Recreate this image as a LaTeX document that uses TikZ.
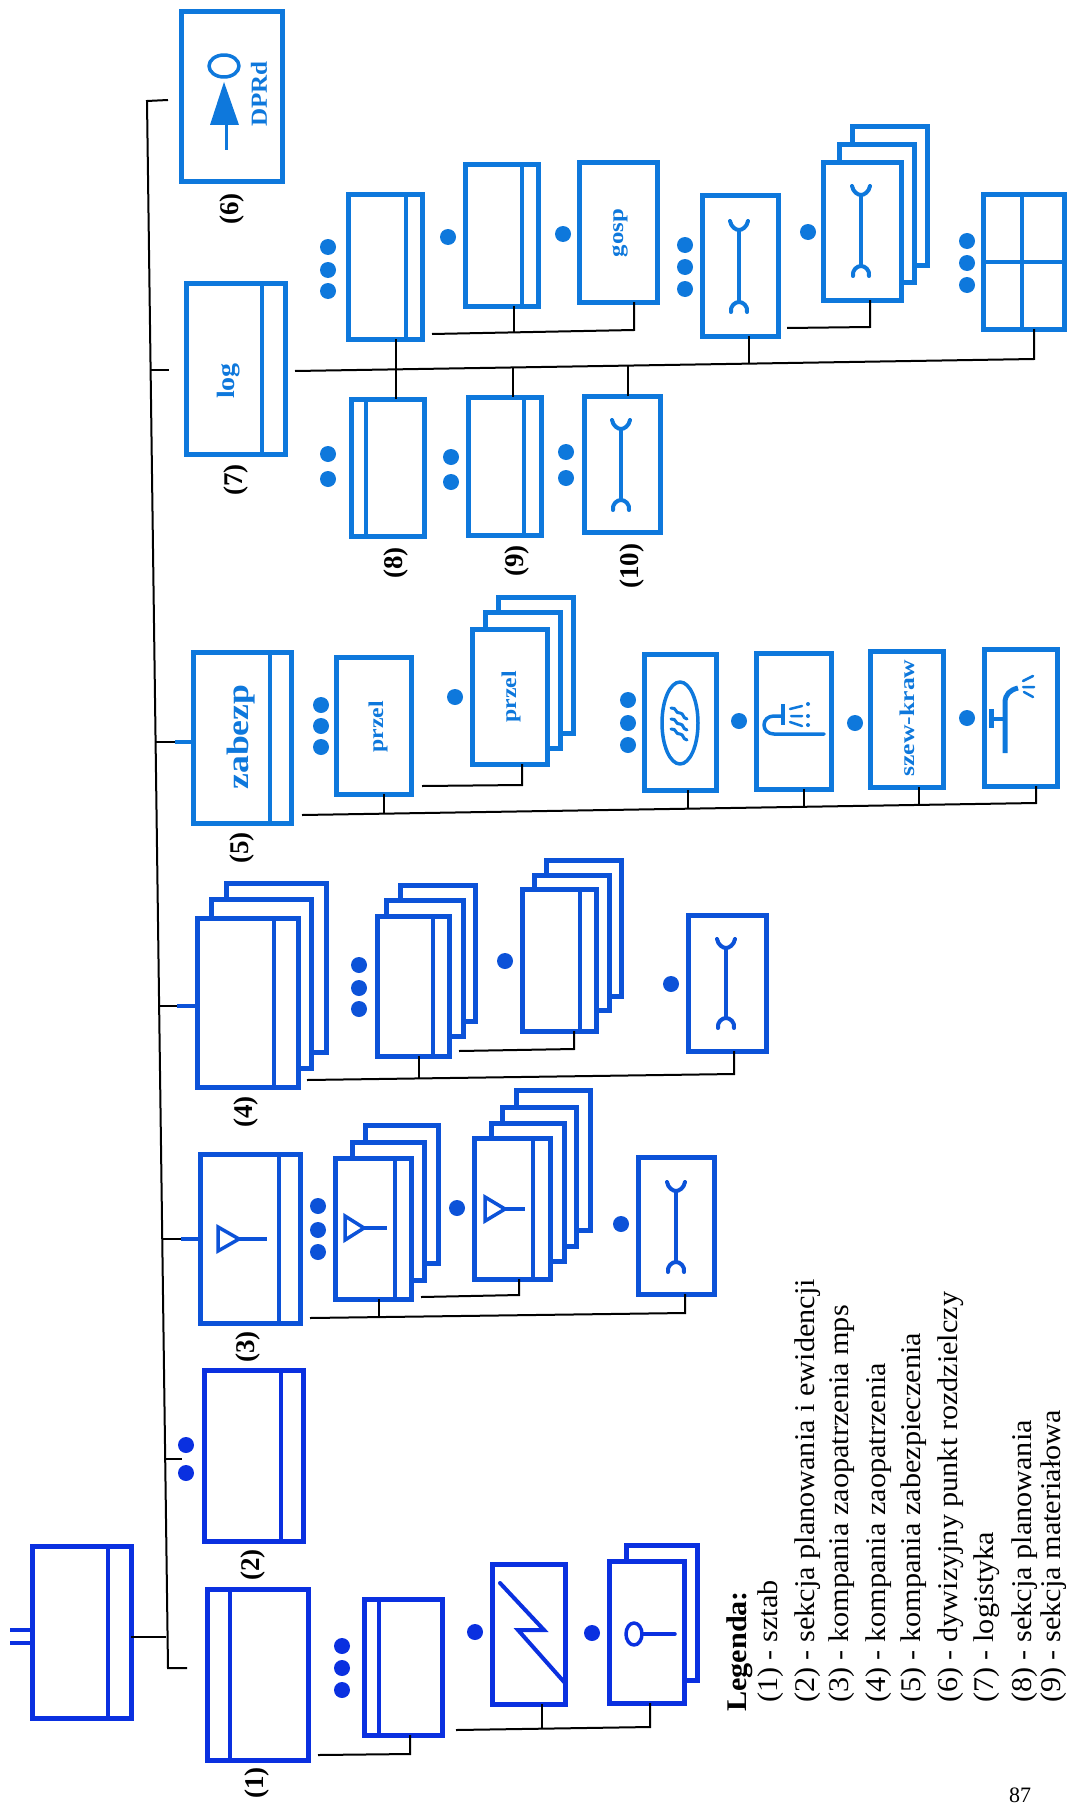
\documentclass[tikz,border=0pt]{standalone}
\usepackage{fontspec}
\setmainfont{Liberation Serif}
\definecolor{cA}{HTML}{0A30E0}
\definecolor{cB}{HTML}{0C52D8}
\definecolor{cC}{HTML}{0E78DC}
\colorlet{cur}{cA}
\tikzset{
  bx/.style={draw=cur,line width=5pt,fill=white,rectangle,inner sep=0pt,outer sep=0pt},
  inner/.style={draw=cur,line width=4pt},
  sym/.style={draw=cur,line width=3.5pt,line cap=round,line join=round},
  ln/.style={draw=black,line width=2pt},
  blu/.style={draw=cur,line width=3.5pt},
  lab/.style={font=\fontsize{27}{30}\selectfont\bfseries,rotate=90,text=black},
  leg/.style={font=\fontsize{28.5}{30}\selectfont,rotate=90,xscale=1.06,anchor=base west,text=black,inner sep=0pt},
  btxt/.style={rotate=90,text=cur,inner sep=0pt},
}
\newcommand\mybox[5]{\node[bx,minimum width={(#4-#2-4)*1pt},minimum height={(#5-#3-4)*1pt}] (#1) at ({(#2+#4)/2},{(#3+#5)/2}) {};}
\newcommand\mystripe[2]{\path (#2,0) coordinate (tmpx); \draw[inner] (#1.north -| tmpx) -- (#1.south -| tmpx);}
\newcommand\mydot[2]{\fill[cur] (#1,#2) circle[radius=8pt];}
\newcommand\mywrench[3]{%
  \draw[sym,line width=4pt] (#1,#2+9) -- (#1,#3-10);
  \draw[sym,line width=4pt] (#1-9,#2) .. controls (#1-8,#2+6) and (#1-3,#2+9) .. (#1,#2+9) .. controls (#1+3,#2+9) and (#1+8,#2+6) .. (#1+9,#2);
  \draw[sym,line width=4pt] (#1-8,#3) .. controls (#1-9,#3-6) and (#1-4,#3-10) .. (#1,#3-10) .. controls (#1+4,#3-10) and (#1+9,#3-6) .. (#1+8,#3);}
\newcommand\myant[4]{% x left, x apex, x stem end, y centre
  \draw[sym,line cap=butt,line join=miter] (#1,#4-12) -- (#2,#4) -- (#1,#4+12) -- cycle;
  \draw[sym,line cap=butt] (#2,#4) -- (#3,#4);}
\begin{document}
\begin{tikzpicture}[x=1pt,y=-1pt]
\useasboundingbox (0,0) rectangle (1067,1806);
% ---------- group 1, 2, HQ
\colorlet{cur}{cA}
\mybox{hq}{30}{1544}{133}{1720} \mystripe{hq}{108}
\fill[cur] (10,1628) rectangle (30,1632);
\fill[cur] (10,1641) rectangle (30,1645);
\mybox{b1}{205}{1587}{310}{1762} \mystripe{b1}{230}
\mybox{b2}{202}{1368}{305}{1543} \mystripe{b2}{281}
\mydot{186}{1445} \mydot{186}{1473}
\mydot{342}{1646} \mydot{342}{1668} \mydot{342}{1690}
\mybox{b1a}{362}{1597}{444}{1737} \mystripe{b1a}{379}
\mydot{475}{1632}
\mybox{b1b}{490}{1562}{567}{1706}
\draw[sym,line width=4pt,line join=miter] (500,1583) -- (544,1630) -- (518,1630) -- (565,1683);
\mydot{592}{1633}
\mybox{b1cb}{624}{1543}{699}{1682}
\mybox{b1c}{607}{1559}{686}{1705}
\draw[sym] (634,1634) ellipse[x radius=8pt,y radius=11pt];
\draw[sym] (642,1634) -- (675,1634);
% ---------- group 3
\colorlet{cur}{cB}
\mybox{b3}{198}{1152}{302}{1325} \mystripe{b3}{279}
\myant{218}{239}{267}{1239}
\mydot{318}{1206} \mydot{318}{1230} \mydot{318}{1252}
\mybox{b3ab}{363}{1123}{440}{1265}
\mybox{b3am}{350}{1140}{426}{1282}
\mybox{b3a}{333}{1156}{413}{1301} \mystripe{b3a}{395}
\myant{345}{364}{387}{1228}
\mydot{457}{1208}
\mybox{b3bc}{514}{1088}{592}{1232}
\mybox{b3bb}{500}{1105}{578}{1248}
\mybox{b3bm}{489}{1121}{566}{1263}
\mybox{b3b}{472}{1136}{552}{1281} \mystripe{b3b}{533}
\myant{485}{505}{525}{1209}
\mydot{621}{1224}
\mybox{b3c}{636}{1155}{716}{1296}
\mywrench{676}{1182}{1272}
% ---------- group 4
\mybox{b4b}{224}{881}{328}{1054}
\mybox{b4m}{209}{897}{313}{1070}
\mybox{b4}{195}{916}{300}{1089} \mystripe{b4}{274}
\mydot{359}{965} \mydot{359}{988} \mydot{359}{1009}
\mybox{b4ab}{398}{883}{477}{1023}
\mybox{b4am}{384}{898}{465}{1038}
\mybox{b4a}{375}{914}{451}{1058} \mystripe{b4a}{433}
\mydot{505}{961}
\mybox{b4bb}{544}{858}{623}{998}
\mybox{b4bm}{532}{873}{611}{1012}
\mybox{b4bf}{520}{887}{598}{1033} \mystripe{b4bf}{580}
\mydot{671}{984}
\mybox{b4c}{686}{913}{768}{1053}
\mywrench{726}{939}{1028}
% ---------- group 5
\colorlet{cur}{cC}
\mybox{b5}{191}{650}{293}{825} \mystripe{b5}{270}
\node[btxt,xscale=1.15,font=\fontsize{31}{32}\selectfont\bfseries] (t5) at (241,737) {zabezp};
\mydot{321}{705} \mydot{321}{726} \mydot{321}{747}
\mybox{b5a}{334}{655}{413}{796}
\node[btxt,xscale=1.13,font=\fontsize{21}{24}\selectfont\bfseries] (t5a) at (378,727) {przel};
\mydot{455}{697}
\mybox{b5bb}{496}{595}{575}{735}
\mybox{b5bm}{483}{610}{562}{750}
\mybox{b5b}{470}{627}{549}{766}
\node[btxt,xscale=1.13,font=\fontsize{21}{24}\selectfont\bfseries] (t5b) at (511,697) {przel};
\mydot{628}{700} \mydot{628}{723} \mydot{628}{745}
\mybox{b5c}{642}{652}{718}{792}
\draw[sym] (680,723) ellipse[x radius=18pt,y radius=41pt];
\foreach \yy in {708,719,729}{
  \draw[sym,line width=3pt] (671,\yy) .. controls (677,\yy-1) and (675,\yy+6) .. (680,\yy+5) .. controls (684,\yy+5) and (682,\yy+10) .. (687,\yy+11);
}
\mydot{739}{721}
\mybox{b5d}{754}{651}{833}{791}
\draw[sym,line cap=butt] (783,704) -- (783,725);
\draw[sym] (783,716) -- (774,716) .. controls (768,716) and (764,720) .. (764,725) .. controls (764,730) and (768,734) .. (774,734) -- (824,734);
\draw[sym,line width=2.5pt] (790,709) -- (802,706) (791,716) -- (802,716) (790,722) -- (802,726);
\fill[cur] (808,704) circle[radius=2pt] (808,716) circle[radius=2pt] (808,725) circle[radius=2pt];
\mydot{855}{723}
\mybox{b5e}{868}{649}{945}{789}
\node[btxt,xscale=1.22,font=\fontsize{21}{24}\selectfont\bfseries] (t5e) at (907,718) {szew-kraw};
\mydot{967}{718}
\mybox{b5f}{982}{647}{1059}{788}
\draw[sym,line width=5pt,line cap=butt] (991,709) -- (991,728);
\draw[sym,line cap=butt] (991,719) -- (1005,719);
\draw[sym,line width=5pt,line cap=butt] (1005,753) -- (1005,703) .. controls (1005,694) and (1010,690) .. (1018,688);
\draw[sym,line width=2.5pt] (1023,681) -- (1033,676) (1023,687) -- (1034,687) (1024,692) -- (1033,697);
% ---------- group 6
\mybox{b6}{179}{10}{284}{184}
\draw[sym] (224,66) ellipse[x radius=15pt,y radius=11pt];
\fill[cur] (224,82) -- (239,125) -- (210,125) -- cycle;
\draw[sym,line width=3pt,line cap=butt] (226,125) -- (226,150);
\node[btxt,xscale=1.09,font=\fontsize{23}{24}\selectfont\bfseries] (t6) at (259,94) {DPRd};
% ---------- group 7
\mybox{b7}{184}{281}{287}{456} \mystripe{b7}{262}
\node[btxt,xscale=1.12,font=\fontsize{25}{26}\selectfont\bfseries] (t7) at (229,381) {log};
\mydot{328}{247} \mydot{328}{270} \mydot{328}{291}
\mybox{b7a}{346}{193}{424}{341} \mystripe{b7a}{406}
\mydot{328}{454} \mydot{328}{479}
\mybox{b8}{349}{397}{426}{538} \mystripe{b8}{366}
\mydot{451}{457} \mydot{451}{482}
\mybox{b9}{466}{395}{543}{537} \mystripe{b9}{524}
\mydot{566}{452} \mydot{566}{478}
\mybox{b10}{582}{394}{662}{534}
\mywrench{621}{420}{510}
\mydot{448}{237}
\mybox{b7b}{463}{163}{540}{308} \mystripe{b7b}{522}
\mydot{563}{234}
\mybox{b7g}{577}{161}{659}{304}
\node[btxt,xscale=1.18,font=\fontsize{21}{24}\selectfont\bfseries] (t7g) at (620,233) {gosp};
\mydot{685}{245} \mydot{685}{267} \mydot{685}{289}
\mybox{b7c}{700}{194}{780}{338}
\mywrench{739}{221}{312}
\mydot{808}{232}
\mybox{b7db}{850}{125}{929}{267}
\mybox{b7dm}{837}{143}{916}{284}
\mybox{b7d}{821}{161}{903}{302}
\mywrench{861}{186}{276}
\mydot{967}{241} \mydot{967}{263} \mydot{967}{285}
\mybox{b7e}{981}{193}{1066}{331}
\draw[inner] (b7e.north) ++(-2,0) -- ++(0,134);
\draw[inner] (b7e.west) -- (b7e.east);
% ---------- labels
\node[lab] (l1) at (257,1783) {(1)};
\node[lab] (l2) at (253,1565) {(2)};
\node[lab] (l3) at (248,1347) {(3)};
\node[lab] (l4) at (246,1112) {(4)};
\node[lab] (l5) at (242,848) {(5)};
\node[lab] (l6) at (232,209) {(6)};
\node[lab] (l7) at (236,480) {(7)};
\node[lab] (l8) at (396,563) {(8)};
\node[lab] (l9) at (517,561) {(9)};
\node[lab] (l10) at (632,566) {(10)};
% ---------- main trunk
\coordinate (mt) at (147,101);
\coordinate (mb) at (168,1668);
\coordinate (e1) at (187,1668);
\coordinate (e6) at (168,100);
\coordinate (e7) at (169,370);
\coordinate (m7) at (150.6,370);
\coordinate (m5) at (155.6,742);
\coordinate (m4) at (159,1006);
\coordinate (m3) at (162.3,1239);
\coordinate (m2) at (165,1459);
\coordinate (m0) at (166,1637);
\coordinate (e5) at (175,742);
\coordinate (e4) at (177,1006);
\coordinate (e3) at (181,1239);
\coordinate (e2) at (182,1459);
\draw[ln] (e6) -- (mt) -- (mb) -- (e1);
\draw[ln] (hq.east |- m0) -- (m0);
\draw[ln] (m2) -- (e2);
\draw[ln] (m3) -- (e3); \draw[blu,cB] (e3) -- (b3.west |- e3);
\draw[ln] (m4) -- (e4); \draw[blu,cB] (e4) -- (b4.west |- e4);
\draw[ln] (m5) -- (e5); \draw[blu] (e5) -- (b5.west |- e5);
\draw[ln] (m7) -- (e7);
% ---------- branch 1
\coordinate (s1) at (318,1755); \coordinate (k1) at (410,1754);
\draw[ln] (s1) -- (k1) -- (k1 |- b1a.south);
\coordinate (s1b) at (456,1730); \coordinate (j1b) at (542,1728); \coordinate (k1c) at (650,1727);
\draw[ln] (s1b) -- (k1c) -- (k1c |- b1c.south);
\draw[ln] (j1b) -- (j1b |- b1b.south);
% ---------- branch 3
\coordinate (s3) at (310,1318); \coordinate (j3) at (379,1317); \coordinate (k3) at (685,1313);
\draw[ln] (s3) -- (k3) -- (k3 |- b3c.south);
\draw[ln] (j3) -- (j3 |- b3a.south);
\coordinate (s3b) at (421,1297); \coordinate (k3b) at (519,1295);
\draw[ln] (s3b) -- (k3b) -- (k3b |- b3b.south);
% ---------- branch 4
\coordinate (s4) at (307,1080); \coordinate (j4) at (419,1079); \coordinate (k4) at (734,1074);
\draw[ln] (s4) -- (k4) -- (k4 |- b4c.south);
\draw[ln] (j4) -- (j4 |- b4a.south);
\coordinate (s4b) at (459,1051); \coordinate (k4b) at (574,1049);
\draw[ln] (s4b) -- (k4b) -- (k4b |- b4bf.south);
% ---------- branch 5
\coordinate (s5) at (302,815); \coordinate (j5a) at (384,814); \coordinate (j5c) at (688,808);
\coordinate (j5d) at (804,806); \coordinate (j5e) at (919,805); \coordinate (k5) at (1036,803);
\draw[ln] (s5) -- (k5) -- (k5 |- b5f.south);
\draw[ln] (j5a) -- (j5a |- b5a.south);
\draw[ln] (j5c) -- (j5c |- b5c.south);
\draw[ln] (j5d) -- (j5d |- b5d.south);
\draw[ln] (j5e) -- (j5e |- b5e.south);
\coordinate (s5b) at (422,786); \coordinate (k5b) at (522,785);
\draw[ln] (s5b) -- (k5b) -- (k5b |- b5b.south);
% ---------- branch 7
\coordinate (s7) at (295,371); \coordinate (k7) at (1034,359);
\draw[ln] (s7) -- (k7) -- (k7 |- b7e.south);
\coordinate (j7a) at (396,369);
\draw[ln] (j7a |- b7a.south) -- (j7a |- b8.north);
\coordinate (j9) at (513,367); \draw[ln] (j9) -- (j9 |- b9.north);
\coordinate (j10) at (628,366); \draw[ln] (j10) -- (j10 |- b10.north);
\coordinate (j7c) at (749,363); \draw[ln] (j7c) -- (j7c |- b7c.south);
\coordinate (s7b) at (432,334); \coordinate (j7b) at (514,332); \coordinate (k7g) at (634,330);
\draw[ln] (s7b) -- (k7g) -- (k7g |- b7g.south);
\draw[ln] (j7b) -- (j7b |- b7b.south);
\coordinate (s7d) at (787,328); \coordinate (k7d) at (870,327);
\draw[ln] (s7d) -- (k7d) -- (k7d |- b7d.south);
% ---------- legend
\node[leg,font=\fontsize{28.5}{30}\selectfont\bfseries] (lg0) at (746,1712) {Legenda:};
\node[leg] (lg1) at (777,1703) {(1) - sztab};
\node[leg] (lg2) at (814,1703) {(2) - sekcja planowania i ewidencji};
\node[leg] (lg3) at (848,1703) {(3) - kompania zaopatrzenia mps};
\node[leg] (lg4) at (885,1703) {(4) - kompania zaopatrzenia};
\node[leg] (lg5) at (920,1703) {(5) - kompania zabezpieczenia};
\node[leg] (lg6) at (957,1703) {(6) - dywizyjny punkt rozdzielczy};
\node[leg] (lg7) at (993,1703) {(7) - logistyka};
\node[leg] (lg8) at (1031,1703) {(8) - sekcja planowania};
\node[leg] (lg9) at (1060,1703) {(9) - sekcja materiałowa};
\node[font=\fontsize{22}{24}\selectfont,text=black] (pg) at (1020,1795) {87};
\end{tikzpicture}
\end{document}
